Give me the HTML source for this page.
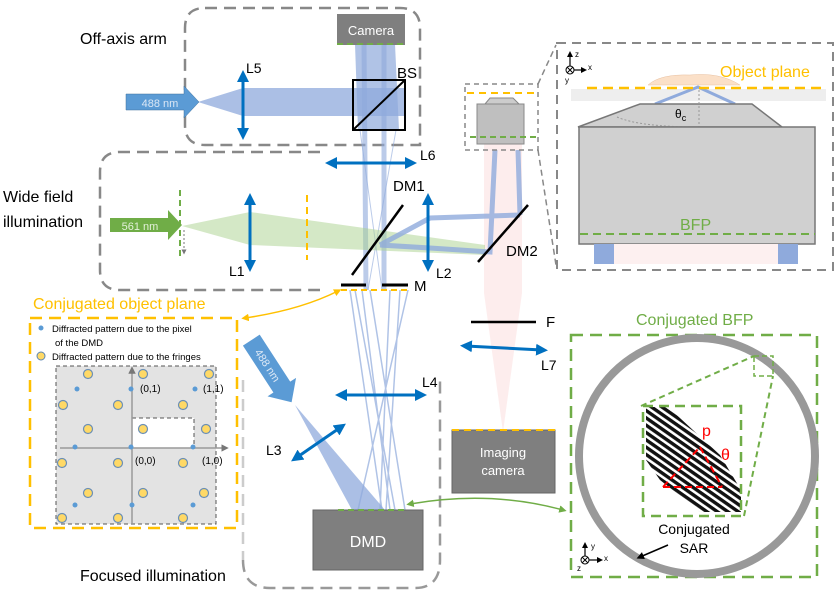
<!DOCTYPE html>
<html><head><meta charset="utf-8"><style>
html,body{margin:0;padding:0;background:#fff;width:837px;height:591px;overflow:hidden}
svg{display:block;font-family:"Liberation Sans",sans-serif}
</style></head><body>
<svg width="837" height="591" viewBox="0 0 837 591" xmlns="http://www.w3.org/2000/svg">
<defs>
<marker id="ab" viewBox="0 0 10 10" refX="5" refY="5" markerWidth="4" markerHeight="4" orient="auto-start-reverse"><path d="M0,0L10,5L0,10z" fill="#0070c0"/></marker>
<marker id="ay" viewBox="0 0 10 10" refX="5" refY="5" markerWidth="5" markerHeight="5" orient="auto-start-reverse"><path d="M0,0L10,5L0,10z" fill="#ffc000"/></marker>
<marker id="ag" viewBox="0 0 10 10" refX="5" refY="5" markerWidth="5" markerHeight="5" orient="auto-start-reverse"><path d="M0,0L10,5L0,10z" fill="#70ad47"/></marker>
<marker id="ak" viewBox="0 0 10 10" refX="5" refY="5" markerWidth="5" markerHeight="5" orient="auto"><path d="M0,0L10,5L0,10z" fill="#000"/></marker>
<marker id="agr" viewBox="0 0 10 10" refX="5" refY="5" markerWidth="5" markerHeight="5" orient="auto"><path d="M0,0L10,5L0,10z" fill="#777"/></marker>
<pattern id="st" width="6" height="6" patternUnits="userSpaceOnUse" patternTransform="rotate(35)"><rect width="6" height="6" fill="#fff"/><rect width="6" height="3.4" fill="#111"/></pattern>
</defs>

<!-- box outlines -->
<path d="M205,8 H400 Q420,8 420,28 V145 H205 Q185,145 185,125 V28 Q185,8 205,8Z" fill="none" stroke="#888" stroke-width="2.5" stroke-dasharray="12,7"/>
<path d="M320,152 H120 Q100,152 100,172 V270 Q100,290 120,290 H320" fill="none" stroke="#888" stroke-width="2.5" stroke-dasharray="12,7"/>
<path d="M243,560 Q243,588 270,588 H415 Q440,588 440,560 V380" fill="none" stroke="#999" stroke-width="2.5" stroke-dasharray="12,7"/>
<path d="M243,380 V560" fill="none" stroke="#ccc" stroke-width="2.5" stroke-dasharray="12,7"/>

<!-- red emission -->
<rect x="484" y="143" width="38" height="150" fill="#fde8e8" opacity="0.8"/>
<path d="M484,293 H522 L503,432Z" fill="#fde8e8" opacity="0.8"/>

<!-- camera beams -->
<path d="M355,44 H395 L399,130 H358Z" fill="#8faadc" opacity="0.7"/>
<path d="M364,44 L366,290 M384,44 L384,290" stroke="#8faadc" stroke-width="5" opacity="0.6"/>
<path d="M360,130 L382,290 M396,130 L368,290" stroke="#8faadc" stroke-width="1" opacity="0.6"/>
<path d="M350,290 L382,510 M408,290 L358,510 M362,290 L390,510 M400,290 L386,510 M370,290 L405,510 M390,290 L380,510 M355,290 L395,510" stroke="#8faadc" stroke-width="1.5" opacity="0.7"/>
<!-- 488 off-axis beam -->
<path d="M198,102 L243,88 H405 V116 H243Z" fill="#8faadc" opacity="0.75"/>
<!-- green beam -->
<path d="M182,226 L250,212 L485,245 L485,255 L250,245Z" fill="#a9d18e" opacity="0.5"/>
<!-- blue beam to DM2 -->
<path d="M380,245 L430,218 L520,215 M380,245 L430,248 L490,252 L495,150 M520,215 L518,150" fill="none" stroke="#8faadc" stroke-width="5" opacity="0.8"/>
<!-- focused beam -->
<path d="M295,405 L385,510 L352,510Z" fill="#8faadc" opacity="0.75"/>

<!-- camera -->
<rect x="337" y="14" width="68" height="31" fill="#7f7f7f"/>
<text x="371" y="35" font-size="13" fill="#fff" text-anchor="middle">Camera</text>
<line x1="337" y1="44" x2="405" y2="44" stroke="#70ad47" stroke-width="2" stroke-dasharray="6,4"/>
<!-- BS -->
<rect x="353" y="80" width="52" height="50" fill="none" stroke="#000" stroke-width="2"/>
<line x1="353" y1="130" x2="405" y2="80" stroke="#000" stroke-width="2"/>
<text x="397" y="78" font-size="15">BS</text>

<!-- 488 arrow -->
<path d="M126,94 H184 V86 L199,102 L184,118 V110 H126Z" fill="#5b9bd5" stroke="#41719c" stroke-width="0.5"/>
<text x="160" y="107" font-size="11" fill="#dbe7f5" text-anchor="middle">488 nm</text>
<!-- 561 arrow -->
<path d="M110,218 H168 V210 L182,225 L168,240 V232 H110Z" fill="#70ad47"/>
<text x="140" y="230" font-size="11" fill="#e2f0d9" text-anchor="middle">561 nm</text>
<line x1="180" y1="190" x2="180" y2="258" stroke="#70ad47" stroke-width="2" stroke-dasharray="6,4"/>
<line x1="184" y1="230" x2="184" y2="252" stroke="#777" stroke-width="1" stroke-dasharray="2,2" marker-end="url(#agr)"/>
<line x1="307" y1="195" x2="307" y2="260" stroke="#ffc000" stroke-width="2" stroke-dasharray="7,5"/>

<!-- lenses -->
<g stroke="#0070c0" stroke-width="3" marker-start="url(#ab)" marker-end="url(#ab)">
<line x1="243" y1="76" x2="243" y2="134"/>
<line x1="250" y1="199" x2="250" y2="266"/>
<line x1="428" y1="199" x2="428" y2="266"/>
<line x1="331" y1="163" x2="411" y2="163"/>
<line x1="341" y1="395" x2="421" y2="395"/>
<line x1="466" y1="346" x2="542" y2="350"/>
<line x1="296" y1="458" x2="341" y2="427"/>
</g>
<text x="246" y="73" font-size="14">L5</text>
<text x="420" y="160" font-size="14">L6</text>
<text x="229" y="276" font-size="14">L1</text>
<text x="436" y="278" font-size="14">L2</text>
<text x="422" y="387" font-size="14">L4</text>
<text x="541" y="370" font-size="14">L7</text>
<text x="266" y="455" font-size="14">L3</text>

<!-- mirrors -->
<line x1="352" y1="275" x2="403" y2="205" stroke="#000" stroke-width="2.5"/>
<line x1="478" y1="262" x2="528" y2="205" stroke="#000" stroke-width="2.5"/>
<text x="393" y="191" font-size="15">DM1</text>
<text x="506" y="256" font-size="15">DM2</text>
<line x1="341" y1="285" x2="366" y2="285" stroke="#000" stroke-width="3"/>
<line x1="382" y1="285" x2="408" y2="285" stroke="#000" stroke-width="3"/>
<line x1="341" y1="290" x2="408" y2="290" stroke="#ffc000" stroke-width="2" stroke-dasharray="6,4"/>
<text x="414" y="291" font-size="15">M</text>
<line x1="471" y1="322" x2="536" y2="322" stroke="#000" stroke-width="2.5"/>
<text x="546" y="327" font-size="15">F</text>

<!-- objective small -->
<rect x="465" y="84" width="73" height="66" fill="none" stroke="#888" stroke-width="1.5" stroke-dasharray="5,4"/>
<line x1="467" y1="93" x2="536" y2="93" stroke="#ffc000" stroke-width="2" stroke-dasharray="7,5"/>
<path d="M485,104 L490,98 H513 L519,104Z" fill="#ccc" stroke="#888"/>
<rect x="477" y="104" width="47" height="40" fill="#bfbfbf" stroke="#888"/>
<line x1="470" y1="137" x2="536" y2="137" stroke="#70ad47" stroke-width="2" stroke-dasharray="6,4"/>
<path d="M538,84 L556,45 M538,150 L556,265" stroke="#888" stroke-width="1.5" stroke-dasharray="6,4"/>

<!-- right inset -->
<rect x="557" y="43" width="276" height="227" fill="none" stroke="#888" stroke-width="2" stroke-dasharray="9,6"/>
<rect x="571" y="89" width="255" height="12" fill="#eee"/>
<path d="M648,85 Q660,74 690,75 Q720,72 740,85Z" fill="#fbe0c8" stroke="#e8c0a0" stroke-width="0.5"/>
<path d="M655,104 L698,87 L735,104" fill="none" stroke="#8faadc" stroke-width="3"/>
<line x1="587" y1="88" x2="822" y2="88" stroke="#ffc000" stroke-width="2.5" stroke-dasharray="10,6"/>
<text x="720" y="77" font-size="16" fill="#ffc000">Object plane</text>
<path d="M578,127 L640,104 H752 L782,127Z" fill="#d0d0d0" stroke="#777" stroke-width="1.5"/>
<path d="M617,117 Q640,127 699,127" fill="none" stroke="#999" stroke-dasharray="2,2"/>
<line x1="699" y1="90" x2="699" y2="127" stroke="#999" stroke-dasharray="2,2"/>
<text x="675" y="118" font-size="12">θ<tspan font-size="9" dy="3">c</tspan></text>
<rect x="579" y="127" width="236" height="117" fill="#d0d0d0" stroke="#777" stroke-width="1.5"/>
<rect x="594" y="244" width="20" height="20" fill="#8faadc"/>
<rect x="778" y="244" width="20" height="20" fill="#8faadc"/>
<rect x="614" y="244" width="164" height="20" fill="#fdf0f0"/>
<line x1="580" y1="234" x2="815" y2="234" stroke="#70ad47" stroke-width="2" stroke-dasharray="8,5"/>
<text x="680" y="230" font-size="16" fill="#70ad47">BFP</text>
<g stroke="#000" stroke-width="1.2"><line x1="570" y1="70" x2="570" y2="54" marker-end="url(#ak)"/><line x1="570" y1="70" x2="584" y2="70" marker-end="url(#ak)"/></g>
<circle cx="570" cy="70" r="4" fill="#fff" stroke="#000"/><path d="M567,67L573,73M573,67L567,73" stroke="#000"/>
<text x="575" y="57" font-size="8">z</text><text x="588" y="70" font-size="8">x</text><text x="565" y="83" font-size="8">y</text>

<!-- conjugated object plane -->
<text x="33" y="309" font-size="16" fill="#ffc000">Conjugated object plane</text>
<rect x="30" y="318" width="207" height="210" fill="none" stroke="#ffc000" stroke-width="2.5" stroke-dasharray="12,7"/>
<circle cx="41" cy="328" r="2.5" fill="#5b9bd5"/>
<text x="52" y="332" font-size="9.5">Diffracted pattern due to the pixel</text>
<text x="55" y="346" font-size="9.5">of the DMD</text>
<circle cx="41" cy="356" r="4" fill="#ffd966" stroke="#5b86b5"/>
<text x="52" y="360" font-size="9.5">Diffracted pattern due to the fringes</text>
<rect x="56" y="366" width="160" height="158" fill="#e3e3e3" stroke="#555" stroke-dasharray="4,3"/>
<rect x="132" y="418" width="62" height="30" fill="#fff" stroke="#555" stroke-dasharray="4,3"/>
<line x1="60" y1="448" x2="225" y2="448" stroke="#999" stroke-width="1.5" marker-end="url(#agr)"/>
<line x1="132" y1="524" x2="132" y2="370" stroke="#999" stroke-width="1.5" marker-end="url(#agr)"/>
<g fill="#ffd966" stroke="#6b8fb5" stroke-width="1.2">
<circle cx="88" cy="374" r="4.5"/><circle cx="143" cy="374" r="4.5"/><circle cx="209" cy="374" r="4.5"/>
<circle cx="63" cy="405" r="4.5"/><circle cx="118" cy="405" r="4.5"/><circle cx="183" cy="405" r="4.5"/>
<circle cx="88" cy="429" r="4.5"/><circle cx="143" cy="429" r="4.5"/><circle cx="206" cy="429" r="4.5"/>
<circle cx="62" cy="463" r="4.5"/><circle cx="118" cy="463" r="4.5"/><circle cx="183" cy="463" r="4.5"/>
<circle cx="88" cy="493" r="4.5"/><circle cx="143" cy="493" r="4.5"/><circle cx="204" cy="493" r="4.5"/>
<circle cx="62" cy="518" r="4.5"/><circle cx="118" cy="518" r="4.5"/><circle cx="183" cy="518" r="4.5"/>
</g>
<g fill="#5b9bd5"><circle cx="77" cy="389" r="2.5"/><circle cx="131" cy="389" r="2.5"/><circle cx="195" cy="389" r="2.5"/>
<circle cx="75" cy="447" r="2.5"/><circle cx="131" cy="447" r="2.5"/><circle cx="193" cy="447" r="2.5"/>
<circle cx="75" cy="505" r="2.5"/><circle cx="132" cy="505" r="2.5"/><circle cx="193" cy="505" r="2.5"/></g>
<g font-size="10"><text x="140" y="392">(0,1)</text><text x="203" y="392">(1,1)</text><text x="135" y="464">(0,0)</text><text x="202" y="464">(1,0)</text></g>

<!-- connectors -->
<path d="M338,291 Q300,310 245,318" fill="none" stroke="#ffc000" stroke-width="1.5" marker-start="url(#ay)" marker-end="url(#ay)"/>
<path d="M410,504 Q490,490 563,510" fill="none" stroke="#70ad47" stroke-width="1.5" marker-start="url(#ag)" marker-end="url(#ag)"/>

<!-- 488 diagonal arrow -->
<g transform="translate(272,372) rotate(57)"><path d="M-38,-10 H18 V-17 L36,0 L18,17 V10 H-38Z" fill="#5b9bd5"/><text x="-8" y="4" font-size="11" fill="#dbe7f5" text-anchor="middle">488 nm</text></g>

<!-- DMD -->
<rect x="313" y="510" width="110" height="60" fill="#7f7f7f" stroke="#666"/>
<text x="368" y="547" font-size="16" fill="#fff" text-anchor="middle">DMD</text>
<line x1="338" y1="510" x2="405" y2="510" stroke="#70ad47" stroke-width="2" stroke-dasharray="6,4"/>
<!-- imaging camera -->
<rect x="452" y="430" width="103" height="63" fill="#7f7f7f" stroke="#666"/>
<line x1="452" y1="430" x2="555" y2="430" stroke="#ffc000" stroke-width="2" stroke-dasharray="7,5"/>
<text x="503" y="457" font-size="13" fill="#fff" text-anchor="middle">Imaging</text>
<text x="503" y="475" font-size="13" fill="#fff" text-anchor="middle">camera</text>

<!-- conjugated BFP -->
<text x="636" y="325" font-size="16" fill="#70ad47">Conjugated BFP</text>
<rect x="571" y="335" width="246" height="242" fill="none" stroke="#70ad47" stroke-width="2.5" stroke-dasharray="12,7"/>
<circle cx="697" cy="456" r="118" fill="none" stroke="#999" stroke-width="8"/>
<rect x="754" y="356" width="19" height="20" fill="none" stroke="#70ad47" stroke-width="1.5" stroke-dasharray="5,3"/>
<path d="M641,406 L754,356 M744,516 L773,376" stroke="#70ad47" stroke-width="2" stroke-dasharray="6,4"/>
<path d="M646,407 H668 L720,455 L741,490 V512 H700 L660,480 L646,460Z" fill="url(#st)"/>
<rect x="643" y="406" width="98" height="110" fill="none" stroke="#70ad47" stroke-width="2.5" stroke-dasharray="10,6"/>
<path d="M663,487 L700,447 M663,487 H722 M700,447 L722,487" stroke="#f00" stroke-width="2" stroke-dasharray="7,4"/>
<text x="702" y="436" font-size="16" fill="#f00">p</text>
<text x="721" y="460" font-size="16" fill="#f00">θ</text>
<text x="694" y="534" font-size="14" text-anchor="middle">Conjugated</text>
<text x="694" y="553" font-size="14" text-anchor="middle">SAR</text>
<line x1="668" y1="545" x2="640" y2="557" stroke="#000" stroke-width="1.5" marker-end="url(#ak)"/>
<g stroke="#000" stroke-width="1.2"><line x1="585" y1="560" x2="585" y2="545" marker-end="url(#ak)"/><line x1="585" y1="560" x2="600" y2="560" marker-end="url(#ak)"/></g>
<circle cx="585" cy="560" r="4" fill="#fff" stroke="#000"/><path d="M582,557L588,563M588,557L582,563" stroke="#000"/>
<text x="591" y="549" font-size="8">y</text><text x="604" y="561" font-size="8">x</text><text x="577" y="571" font-size="8">z</text>

<!-- side labels -->
<text x="80" y="44" font-size="16">Off-axis arm</text>
<text x="3" y="202" font-size="16">Wide field</text>
<text x="3" y="227" font-size="16">illumination</text>
<text x="80" y="581" font-size="16">Focused illumination</text>
</svg>
</body></html>
